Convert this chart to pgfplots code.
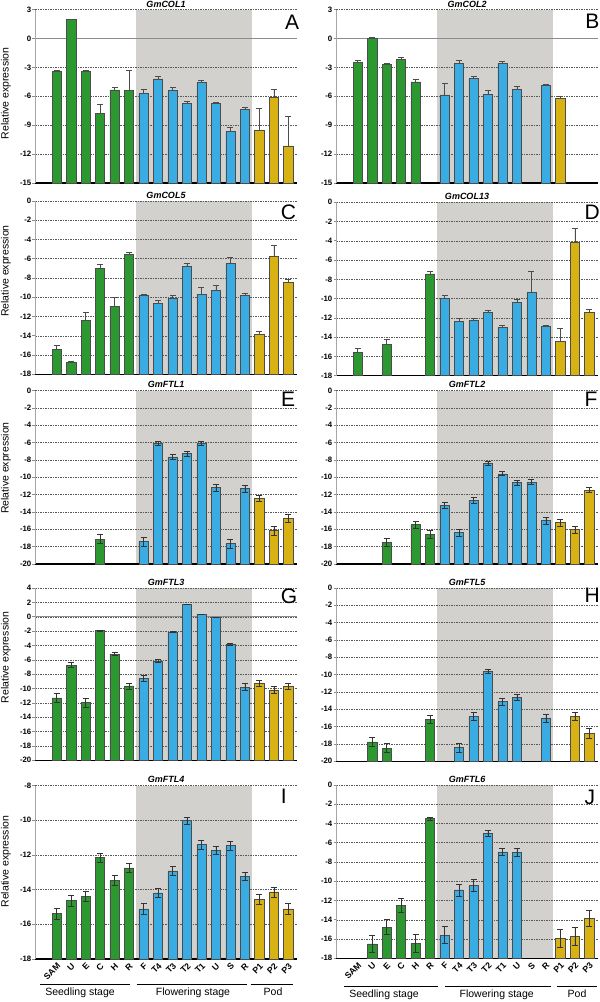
\documentclass[border=0pt]{standalone}
\usepackage{fontspec}
\setmainfont{Liberation Sans}
\usepackage{pgfplots}
\pgfplotsset{compat=1.18}
\definecolor{cgreen}{RGB}{44,152,48}
\definecolor{cblue}{RGB}{58,172,228}
\definecolor{cyellow}{RGB}{216,178,18}
\definecolor{bggray}{RGB}{211,209,205}
\pgfplotsset{
  panel/.style={
    scale only axis, width=262pt, height=173.5pt,
    xmin=-1.5, xmax=16.6, ymin=0,
    set layers,
    axis x line*=bottom, axis y line*=left,
    x axis line style={black, line width=1.3pt},
    y axis line style={black!35, line width=0.8pt},
    xtick=\empty,
    ymajorgrids,
    grid style={black!65, line width=0.45pt, dash pattern=on 1.6pt off 0.9pt},
    tick align=outside, major tick length=2.5pt,
    ytick style={black!45, line width=0.6pt},
    yticklabel style={font=\bfseries\fontsize{7.8}{8}\selectfont, inner sep=1pt},
  },
  base/.style={y filter/.expression={y-(#1)}, yticklabel={\pgfmathparse{\tick+(#1)}\pgfmathprintnumber[assume math mode=true]{\pgfmathresult}}},
  zeroline/.style={extra y ticks={#1}, extra y tick labels={}, extra y tick style={major grid style={solid, black!45, line width=1.3pt}}},
  bars/.style={ybar, bar width=0.64, bar shift=0pt, fill=#1, draw=black!70, line width=0.55pt},
  eplus/.style={error bars/y dir=plus, error bars/y explicit, error bars/error bar style={black!70, line width=0.6pt}, error bars/error mark options={rotate=90, black!70, line width=0.6pt, mark size=3pt}},
  eboth/.style={error bars/y dir=both, error bars/y explicit, error bars/error bar style={black!80, line width=0.6pt}, error bars/error mark options={rotate=90, black!80, line width=0.6pt, mark size=3pt}},
  xlabs/.style={xtick={0,...,16}, xticklabels={SAM,U,E,C,H,R,F,T4,T3,T2,T1,U,S,R,P1,P2,P3}, xtick style={draw=none}, xticklabel style={rotate=45, anchor=north east, font=\bfseries\fontsize{8.7}{9}\selectfont, inner sep=0.5pt}},
}
\newcommand{\graybg}[2]{\addplot[on layer=axis background, fill=bggray, draw=none, forget plot] coordinates {(5.5,#1) (13.5,#1) (13.5,#2) (5.5,#2)};}
\begin{document}
\begin{tikzpicture}
% ---------- A ----------
\begin{axis}[panel, base=-15, at={(35pt,-183pt)}, anchor=south west, ymax=18, ytick={0,3,...,18}, zeroline=15]
\graybg{-15}{3}
\addplot[bars=cgreen, eplus] coordinates {(0,-3.43) +- (0,0.13) (1,1.94) +- (0,0.07) (2,-3.46) +- (0,0.16) (3,-7.75) +- (0,0.95) (4,-5.33) +- (0,0.28) (5,-5.43) +- (0,2.13)};
\addplot[bars=cblue, eplus] coordinates {(6,-5.67) +- (0,0.41) (7,-4.19) +- (0,0.29) (8,-5.43) +- (0,0.33) (9,-6.71) +- (0,0.21) (10,-4.57) +- (0,0.27) (11,-6.75) +- (0,0.15) (12,-9.62) +- (0,0.45) (13,-7.34) +- (0,0.18)};
\addplot[bars=cyellow, eplus] coordinates {(14,-9.55) +- (0,2.25) (15,-6.09) +- (0,0.83) (16,-11.14) +- (0,3.08)};
\end{axis}
% ---------- B ----------
\begin{axis}[panel, base=-15, at={(336pt,-183pt)}, anchor=south west, ymax=18, ytick={0,3,...,18}, zeroline=15]
\graybg{-15}{3}
\addplot[bars=cgreen, eplus] coordinates {(0,-2.46) +- (0,0.18) (1,0.03) +- (0,0.1) (2,-2.73) +- (0,0.13) (3,-2.21) +- (0,0.27) (4,-4.5) +- (0,0.28)};
\addplot[bars=cblue, eplus] coordinates {(6,-5.85) +- (0,1.21) (7,-2.63) +- (0,0.38) (8,-4.15) +- (0,0.25) (9,-5.78) +- (0,0.42) (10,-2.56) +- (0,0.14) (11,-5.26) +- (0,0.31) (13,-4.91) +- (0,0.1)};
\addplot[bars=cyellow, eplus] coordinates {(14,-6.26) +- (0,0.24)};
\end{axis}
% ---------- C ----------
\begin{axis}[panel, base=-18, at={(35pt,-374.3pt)}, anchor=south west, ymax=18, ytick={0,2,...,18}]
\graybg{-18}{0}
\addplot[bars=cgreen, eplus] coordinates {(0,-15.41) +- (0,0.38) (1,-16.76) +- (0,0.07) (2,-12.4) +- (0,0.82) (3,-7.01) +- (0,0.44) (4,-10.95) +- (0,0.89) (5,-5.53) +- (0,0.17)};
\addplot[bars=cblue, eplus] coordinates {(6,-9.85) +- (0,0.17) (7,-10.64) +- (0,0.27) (8,-10.12) +- (0,0.27) (9,-6.81) +- (0,0.28) (10,-9.71) +- (0,0.69) (11,-9.33) +- (0,0.55) (12,-6.5) +- (0,0.59) (13,-9.85) +- (0,0.21)};
\addplot[bars=cyellow, eplus] coordinates {(14,-13.86) +- (0,0.28) (15,-5.77) +- (0,1.11) (16,-8.47) +- (0,0.32)};
\end{axis}
% ---------- D ----------
\begin{axis}[panel, base=-18, at={(336pt,-375.7pt)}, anchor=south west, ymax=18, ytick={0,2,...,18}]
\graybg{-18}{0}
\addplot[bars=cgreen, eplus] coordinates {(0,-15.58) +- (0,0.38) (2,-14.75) +- (0,0.49) (5,-7.44) +- (0,0.24)};
\addplot[bars=cblue, eplus] coordinates {(6,-10.0) +- (0,0.31) (7,-12.39) +- (0,0.34) (8,-12.25) +- (0,0.2) (9,-11.46) +- (0,0.28) (10,-13.01) +- (0,0.2) (11,-10.42) +- (0,0.31) (12,-9.38) +- (0,2.18) (13,-12.91) +- (0,0.17)};
\addplot[bars=cyellow, eplus] coordinates {(14,-14.47) +- (0,1.35) (15,-4.19) +- (0,1.49) (16,-11.42) +- (0,0.27)};
\end{axis}
% ---------- E ----------
\begin{axis}[panel, base=-20, at={(35pt,-564pt)}, anchor=south west, ymax=20, ytick={0,2,...,20}]
\graybg{-20}{0}
\addplot[bars=cgreen, eboth] coordinates {(3,-17.12) +- (0,0.54)};
\addplot[bars=cblue, eboth] coordinates {(6,-17.43) +- (0,0.54) (7,-6.1) +- (0,0.2) (8,-7.64) +- (0,0.25) (9,-7.29) +- (0,0.25) (10,-6.03) +- (0,0.23) (11,-11.21) +- (0,0.36) (12,-17.66) +- (0,0.56) (13,-11.32) +- (0,0.36)};
\addplot[bars=cyellow, eboth] coordinates {(14,-12.44) +- (0,0.36) (15,-16.16) +- (0,0.48) (16,-14.74) +- (0,0.48)};
\end{axis}
% ---------- F ----------
\begin{axis}[panel, base=-20, at={(336pt,-564pt)}, anchor=south west, ymax=20, ytick={0,2,...,20}]
\graybg{-20}{0}
\addplot[bars=cgreen, eboth] coordinates {(2,-17.47) +- (0,0.48) (4,-15.47) +- (0,0.38) (5,-16.62) +- (0,0.46)};
\addplot[bars=cblue, eboth] coordinates {(6,-13.2) +- (0,0.36) (7,-16.39) +- (0,0.4) (8,-12.67) +- (0,0.35) (9,-8.41) +- (0,0.23) (10,-9.6) +- (0,0.23) (11,-10.63) +- (0,0.25) (12,-10.56) +- (0,0.27) (13,-15.01) +- (0,0.4)};
\addplot[bars=cyellow, eboth] coordinates {(14,-15.24) +- (0,0.36) (15,-16.05) +- (0,0.38) (16,-11.48) +- (0,0.27)};
\end{axis}
% ---------- G ----------
\begin{axis}[panel, base=-20, height=172.3pt, at={(35pt,-760.3pt)}, anchor=south west, ymax=24, ytick={0,2,...,24}, zeroline=20]
\graybg{-20}{4}
\addplot[bars=cgreen, eboth] coordinates {(0,-11.3) +- (0,0.6) (1,-6.74) +- (0,0.35) (2,-11.95) +- (0,0.6) (3,-1.95) +- (0,0.05) (4,-5.21) +- (0,0.23) (5,-9.63) +- (0,0.42)};
\addplot[bars=cblue, eboth] coordinates {(6,-8.56) +- (0,0.4) (7,-6.14) +- (0,0.23) (8,-2.14) +- (0,0.05) (9,1.72) +- (0,0.05) (10,0.33) +- (0,0.03) (11,-0.05) +- (0,0.03) (12,-3.86) +- (0,0.15) (13,-9.81) +- (0,0.5)};
\addplot[bars=cyellow, eboth] coordinates {(14,-9.21) +- (0,0.42) (15,-10.19) +- (0,0.47) (16,-9.63) +- (0,0.42)};
\end{axis}
% ---------- H ----------
\begin{axis}[panel, base=-20, at={(336pt,-761.3pt)}, anchor=south west, ymax=20, ytick={0,2,...,20}]
\graybg{-20}{0}
\addplot[bars=cgreen, eboth] coordinates {(1,-17.77) +- (0,0.5) (2,-18.47) +- (0,0.5) (5,-15.19) +- (0,0.44)};
\addplot[bars=cblue, eboth] coordinates {(7,-18.43) +- (0,0.52) (8,-14.84) +- (0,0.46) (9,-9.64) +- (0,0.27) (10,-13.11) +- (0,0.38) (11,-12.6) +- (0,0.35) (13,-15.0) +- (0,0.46)};
\addplot[bars=cyellow, eboth] coordinates {(15,-14.84) +- (0,0.46) (16,-16.77) +- (0,0.52)};
\end{axis}
% ---------- I ----------
\begin{axis}[panel, xlabs, base=-18, at={(35pt,-959pt)}, anchor=south west, ymax=10, ytick={0,2,...,10}]
\graybg{-18}{-8}
\addplot[bars=cgreen, eboth] coordinates {(0,-15.38) +- (0,0.33) (1,-14.63) +- (0,0.31) (2,-14.38) +- (0,0.31) (3,-12.14) +- (0,0.26) (4,-13.48) +- (0,0.29) (5,-12.75) +- (0,0.26)};
\addplot[bars=cblue, eboth] coordinates {(6,-15.11) +- (0,0.32) (7,-14.19) +- (0,0.28) (8,-12.92) +- (0,0.27) (9,-10.03) +- (0,0.21) (10,-11.41) +- (0,0.27) (11,-11.75) +- (0,0.22) (12,-11.47) +- (0,0.24) (13,-13.23) +- (0,0.25)};
\addplot[bars=cyellow, eboth] coordinates {(14,-14.55) +- (0,0.29) (15,-14.13) +- (0,0.29) (16,-15.11) +- (0,0.32)};
\end{axis}
% ---------- J ----------
\begin{axis}[panel, xlabs, base=-18, at={(336pt,-958.3pt)}, anchor=south west, ymax=18, ytick={0,2,...,18}]
\graybg{-18}{0}
\addplot[bars=cgreen, eboth] coordinates {(1,-16.51) +- (0,0.9) (2,-14.78) +- (0,0.78) (3,-12.5) +- (0,0.73) (4,-16.44) +- (0,0.95) (5,-3.5) +- (0,0.14)};
\addplot[bars=cblue, eboth] coordinates {(6,-15.6) +- (0,0.87) (7,-10.9) +- (0,0.63) (8,-10.45) +- (0,0.6) (9,-5.02) +- (0,0.3) (10,-6.96) +- (0,0.38) (11,-7.03) +- (0,0.4)};
\addplot[bars=cyellow, eboth] coordinates {(14,-15.91) +- (0,0.92) (15,-15.7) +- (0,0.9) (16,-13.83) +- (0,0.82)};
\end{axis}
% ---------- titles ----------
\tikzset{ptitle/.style={anchor=base, inner sep=0pt, font=\bfseries\itshape\fontsize{9}{10}\selectfont}}
\node[ptitle] at (166pt,-7pt) {GmCOL1};
\node[ptitle] at (467pt,-7pt) {GmCOL2};
\node[ptitle] at (166pt,-198pt) {GmCOL5};
\node[ptitle] at (467pt,-199.5pt) {GmCOL13};
\node[ptitle] at (166pt,-387.5pt) {GmFTL1};
\node[ptitle] at (467pt,-387.5pt) {GmFTL2};
\node[ptitle] at (166pt,-585.5pt) {GmFTL3};
\node[ptitle] at (467pt,-585.8pt) {GmFTL5};
\node[ptitle] at (166pt,-782.5pt) {GmFTL4};
\node[ptitle] at (467pt,-782.5pt) {GmFTL6};
% ---------- y labels ----------
\foreach \yc in {93.5,271,468,657.5,861.7}{
  \node[rotate=90, font=\fontsize{10.5}{12}\selectfont, inner sep=0pt] at (6pt,-\yc pt) {Relative expression};
}
% ---------- panel letters ----------
\tikzset{letter/.style={anchor=north west, inner sep=0pt, font=\fontsize{21}{21}\selectfont}}
\node[letter] at (285pt,-15pt) {A};
\node[letter] at (585.2pt,-14pt) {B};
\node[letter] at (280.7pt,-205pt) {C};
\node[letter] at (584.4pt,-205pt) {D};
\node[letter] at (281pt,-391.7pt) {E};
\node[letter] at (584.3pt,-391.7pt) {F};
\node[letter] at (280.7pt,-589pt) {G};
\node[letter] at (584.4pt,-588.3pt) {H};
\node[letter] at (280.7pt,-789pt) {I};
\node[letter] at (584.5pt,-790pt) {J};
% ---------- stage brackets ----------
\draw[line width=1.2pt] (40pt,-984.3pt) -- (130pt,-984.3pt);
\draw[line width=1.2pt] (136.7pt,-984.3pt) -- (246.7pt,-984.3pt);
\draw[line width=1.2pt] (250.7pt,-984.3pt) -- (292.7pt,-984.3pt);
\draw[line width=1.2pt] (344.3pt,-986.7pt) -- (438.3pt,-986.7pt);
\draw[line width=1.2pt] (445pt,-986.7pt) -- (550.7pt,-986.7pt);
\draw[line width=1.2pt] (556.7pt,-986.7pt) -- (597.3pt,-986.7pt);
\tikzset{stage/.style={anchor=base, inner sep=0pt, font=\fontsize{10.5}{12}\selectfont}}
\node[stage] at (80pt,-995pt) {Seedling stage};
\node[stage] at (193pt,-995pt) {Flowering stage};
\node[stage] at (273pt,-995pt) {Pod};
\node[stage] at (384pt,-997.7pt) {Seedling stage};
\node[stage] at (496.7pt,-997.7pt) {Flowering stage};
\node[stage] at (577pt,-997.7pt) {Pod};
\pgfresetboundingbox
\path[use as bounding box] (0,0) rectangle (600pt,-1002pt);
\end{tikzpicture}
\end{document}
